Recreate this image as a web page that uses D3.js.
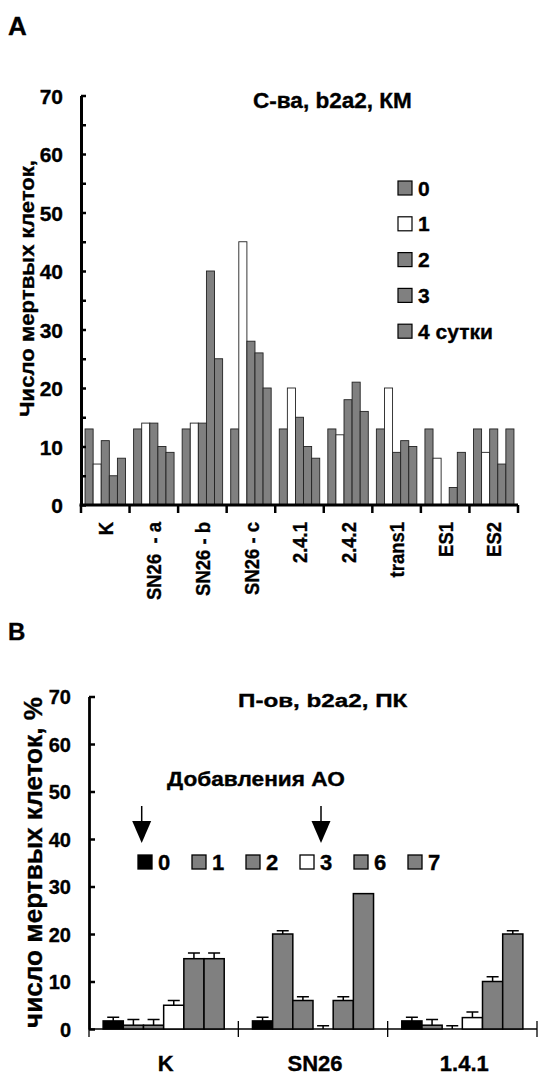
<!DOCTYPE html>
<html><head><meta charset="utf-8">
<script src="https://cdn.jsdelivr.net/npm/d3@7"></script>
<style>
body{margin:0;background:#fff}
svg text{font-family:"Liberation Sans",Arial,sans-serif;font-weight:bold;fill:#000;white-space:pre;stroke:#000;stroke-width:0.35px}
</style>
</head><body>
<svg id="c" width="538" height="1076"></svg>
<script>
// ---------- Panel A data ----------
const groupsA = ["K","SN26  - a","SN26 - b","SN26 - c","2.4.1","2.4.2","trans1","ES1","ES2"];
const seriesA = ["0","1","2","3","4 сутки"];
const day0A = [13,13,13,13,13,13,13,13,13];
const day1A = [7,14,14,45,20,12,20,8,9];
const day2A = [11,14,14,28,15,18,9,0,13];
const day3A = [5,10,40,26,10,21,11,3,7];
const day4A = [8,9,25,20,8,16,10,9,13];
const colorsA = ["#808080","#ffffff","#808080","#808080","#808080"];
const ticksA = [0,5,10,15,20,25,30,35,40,45,50,55,60,65,70];
const titleA = "С-ва, b2a2, КМ";
const yTitleA = "Число мертвых клеток,";

// ---------- Panel B data ----------
const groupsB = ["K","SN26","1.4.1"];
const seriesB = ["0","1","2","3","6","7"];
const day0B = [1.7,1.7,1.7];
const day1B = [0.8,20,0.8];
const day2B = [0.8,6,0];
const day3B = [5,0,2.4];
const day6B = [14.8,6,10];
const day7B = [14.8,28.5,20];
const err0B = [0.8,0.8,0.8];
const err1B = [1.2,0.7,1.2];
const err2B = [1.2,0.8,0.7];
const err3B = [1,0.7,1.2];
const err6B = [1.2,0.8,1];
const err7B = [1.2,0,0.7];
const colorsB = ["#000000","#808080","#808080","#ffffff","#808080","#808080"];
const ticksB = [0,10,20,30,40,50,60,70];
const titleB = "П-ов, b2a2, ПК";
const yTitleB = "число мертвых клеток, %";
const noteB = "Добавления АО";
const arrowDaysB = ["0","3"];

const svg = d3.select("#c");

function fitText(t, target){
  const w = t.node().getBBox().width;
  return target / w;
}

// ================= PANEL A =================
svg.append("text").attr("x",8).attr("y",35).attr("font-size",26).text("A");

const yA = d3.scaleLinear().domain([0,70]).range([505,95.5]);
const xA = d3.scaleBand().domain(groupsA).range([81,518]).padding(0);
const x1A = d3.scaleBand().domain(seriesA).range([0,xA.bandwidth()]).paddingInner(0).paddingOuter(0.5);
const seriesValsA = [day0A,day1A,day2A,day3A,day4A];

const barsA = svg.append("g");
seriesValsA.forEach((vals,i)=>{
  barsA.selectAll(null).data(groupsA.map((g,j)=>({g,v:vals[j]})).filter(d=>d.v>0))
    .enter().append("rect")
    .attr("x",d=>xA(d.g)+x1A(seriesA[i]))
    .attr("y",d=>yA(d.v))
    .attr("width",x1A.bandwidth())
    .attr("height",d=>yA(0)-yA(d.v))
    .attr("fill",colorsA[i]).attr("stroke","#222").attr("stroke-width",0.9);
});

// y axis A
const axA = svg.append("g").attr("transform","translate(81,0)")
  .call(d3.axisLeft(yA).tickValues(ticksA).tickSize(-5).tickSizeOuter(0).tickPadding(18)
        .tickFormat(d=>d%10===0?d:""));
axA.select(".domain").attr("stroke-width",3);
axA.selectAll(".tick line").attr("stroke-width",2.5);
axA.selectAll(".tick text").attr("font-size",21).attr("font-family",null).attr("dy","0.36em");

// x axis A
const bndA = groupsA.map(g=>xA(g)).concat([xA.range()[1]]);
svg.append("line").attr("x1",xA.range()[0]-1.5).attr("x2",xA.range()[1]).attr("y1",yA(0)).attr("y2",yA(0))
  .attr("stroke","#000").attr("stroke-width",3);
svg.append("g").selectAll("line").data(bndA).enter().append("line")
  .attr("x1",d=>d).attr("x2",d=>d).attr("y1",yA(0)).attr("y2",yA(0)+8)
  .attr("stroke","#000").attr("stroke-width",2.5);

// x labels A (rotated)
const labA = svg.append("g");
const probe = labA.append("text").attr("font-size",21).text("SN26 - b");
const sA = fitText(probe,74);
probe.remove();
labA.selectAll("text").data(groupsA).enter().append("text")
  .attr("font-size",21).attr("text-anchor","end").attr("dy","0.36em")
  .attr("transform",d=>`translate(${xA(d)+xA.bandwidth()/2},522) rotate(-90) scale(${sA},1)`)
  .text(d=>d);

// title A
const tA = svg.append("text").attr("font-size",22).text(titleA);
const sTA = fitText(tA,159);
tA.attr("transform",`translate(253,108) scale(${sTA},1)`);

// y title A
const ytA = svg.append("text").attr("font-size",21).attr("text-anchor","middle").text(yTitleA);
const sYA = fitText(ytA,257);
ytA.attr("transform",`translate(34,288.5) rotate(-90) scale(${sYA},1)`);

// legend A
const legA = svg.append("g");
seriesA.forEach((s,i)=>{
  const cy = 188 + i*35.8;
  legA.append("rect").attr("x",398).attr("y",cy-7).attr("width",14).attr("height",14)
    .attr("fill",colorsA[i]).attr("stroke","#000").attr("stroke-width",1.2);
  legA.append("text").attr("x",418).attr("y",cy).attr("dy","0.36em").attr("font-size",21).text(s);
});

// ================= PANEL B =================
svg.append("text").attr("x",8).attr("y",640).attr("font-size",24).text("B");

const yB = d3.scaleLinear().domain([0,70]).range([1029,696.5]);
const xB = d3.scaleBand().domain(groupsB).range([89,537]).padding(0);
const x1B = d3.scaleBand().domain(seriesB).range([0,xB.bandwidth()]).paddingInner(0).paddingOuter(0.7);
const seriesValsB = [day0B,day1B,day2B,day3B,day6B,day7B];
const seriesErrB = [err0B,err1B,err2B,err3B,err6B,err7B];

// x axis B (thin)
const bndB = groupsB.map(g=>xB(g)).concat([xB.range()[1]]);
svg.append("line").attr("x1",xB.range()[0]).attr("x2",xB.range()[1]).attr("y1",yB(0)).attr("y2",yB(0))
  .attr("stroke","#000").attr("stroke-width",1.3);
svg.append("g").selectAll("line").data(bndB).enter().append("line")
  .attr("x1",d=>d).attr("x2",d=>d).attr("y1",(d,i)=>i===0?yB(0):yB(0)-8).attr("y2",yB(0)+8)
  .attr("stroke","#000").attr("stroke-width",1.3);

const barsB = svg.append("g");
seriesValsB.forEach((vals,i)=>{
  const data = groupsB.map((g,j)=>({g,v:vals[j],e:seriesErrB[i][j]}));
  barsB.selectAll(null).data(data.filter(d=>d.v>0)).enter().append("rect")
    .attr("x",d=>xB(d.g)+x1B(seriesB[i]))
    .attr("y",d=>yB(d.v))
    .attr("width",x1B.bandwidth())
    .attr("height",d=>yB(0)-yB(d.v))
    .attr("fill",colorsB[i]).attr("stroke","#000").attr("stroke-width",1.5);
  const eb = data.filter(d=>d.e>0);
  barsB.selectAll(null).data(eb).enter().append("path")
    .attr("d",d=>{
      const cx = xB(d.g)+x1B(seriesB[i])+x1B.bandwidth()/2;
      const y0 = yB(d.v), y1 = yB(d.v+d.e);
      return `M${cx},${y0}V${y1}M${cx-6},${y1}H${cx+6}`;
    })
    .attr("fill","none").attr("stroke","#000").attr("stroke-width",1.5);
});

// y axis B
const axB = svg.append("g").attr("transform","translate(89,0)")
  .call(d3.axisLeft(yB).tickValues(ticksB).tickSize(-6).tickSizeOuter(0).tickPadding(18));
axB.select(".domain").attr("stroke-width",2.8);
axB.selectAll(".tick line").attr("stroke-width",2.5);
axB.selectAll(".tick text").attr("font-size",20).attr("font-family",null).attr("dy","0.36em");

// x labels B
svg.append("g").selectAll("text").data(groupsB).enter().append("text")
  .attr("x",d=>xB(d)+xB.bandwidth()/2+2).attr("y",1071).attr("text-anchor","middle")
  .attr("font-size",22).text(d=>d);

// title B
const tB = svg.append("text").attr("font-size",19).text(titleB);
const sTB = fitText(tB,170);
tB.attr("transform",`translate(238,707) scale(${sTB},1)`);

// note B
const nB = svg.append("text").attr("font-size",20).text(noteB);
const sNB = fitText(nB,178);
nB.attr("transform",`translate(167,786) scale(${sNB},1)`);

// arrows
const arrowX = [141.7, 321];
arrowDaysB.forEach((d,i)=>{
  const ax = arrowX[i];
  svg.append("line").attr("x1",ax).attr("x2",ax).attr("y1",806).attr("y2",823)
    .attr("stroke","#000").attr("stroke-width",1.5);
  svg.append("path").attr("d",`M${ax-9.5},821L${ax+9.5},821L${ax},843Z`).attr("fill","#000");
});

// legend B
const legB = svg.append("g");
seriesB.forEach((s,i)=>{
  const lx = 138 + i*54, cy = 862;
  legB.append("rect").attr("x",lx).attr("y",cy-7).attr("width",14).attr("height",14)
    .attr("fill",colorsB[i]).attr("stroke","#000").attr("stroke-width",1.3);
  legB.append("text").attr("x",lx+20).attr("y",cy).attr("dy","0.36em").attr("font-size",22).text(s);
});

// y title B
const ytB = svg.append("text").attr("font-size",26).attr("text-anchor","middle").text(yTitleB);
const sYB = fitText(ytB,331);
ytB.attr("transform",`translate(42,862.5) rotate(-90) scale(${sYB},1)`);
</script>
</body></html>
